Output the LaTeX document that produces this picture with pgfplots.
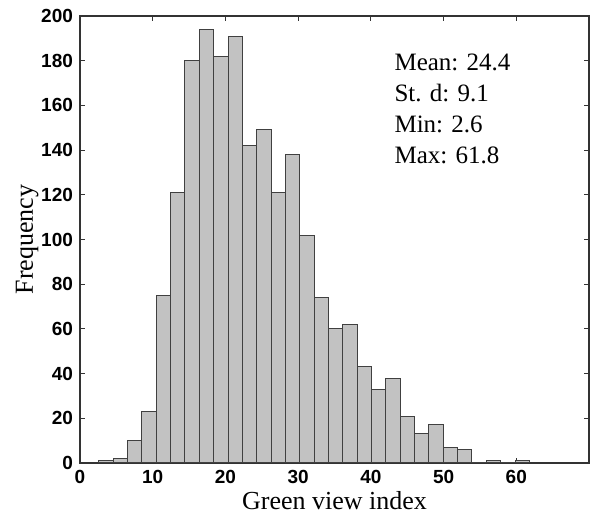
\documentclass[border=0pt]{standalone}
\usepackage{fontspec}
\setmainfont{Liberation Serif}
\setsansfont{Liberation Sans}
\usepackage{pgfplots}
\pgfplotsset{compat=1.18}
\usepackage{pgfplotstable}

% left bin edges (30 bins, 2.6 to 61.8), last row closes the final bin
\pgfplotstableread{
edge   count
2.600  1
4.573  2
6.547  10
8.520  23
10.493 75
12.467 121
14.440 180
16.413 194
18.387 182
20.360 191
22.333 142
24.307 149
26.280 121
28.253 138
30.227 102
32.200 74
34.173 60
36.147 62
38.120 43
40.093 33
42.067 38
44.040 21
46.013 13
47.987 17
49.960 7
51.933 6
53.907 0
55.880 1
57.853 0
59.827 1
61.800 1
}\hist

\begin{document}
\begin{tikzpicture}
\begin{axis}[
    scale only axis,
    width=254.5pt, height=223.5pt,
    xmin=0, xmax=70, ymin=0, ymax=200,
    xtick={0,10,...,60},
    ytick={0,20,...,200},
    tick align=inside,
    major tick length=2.5pt,
    axis line style={black!80, line width=0.6pt},
    every tick/.style={black!80, line width=0.5pt},
    tick label style={font=\fontsize{9.5}{11}\sffamily\bfseries, /pgf/number format/assume math mode=true},
    xlabel={Green view index},
    ylabel={Frequency},
    label style={font=\fontsize{13}{15}\selectfont},
    xlabel style={yshift=3pt},
    ylabel style={yshift=-5.5pt},
]
\addplot[ybar interval, fill=black!24, draw=black!75, line width=0.5pt]
    table[x=edge, y=count] {\hist};
\node[anchor=north west, inner sep=0pt, align=left,
      font=\fontsize{12.5}{15.5}\selectfont]
    at (axis cs:43.2,183.2) {Mean: 24.4\\St. d: 9.1\\Min: 2.6\\Max: 61.8};
\end{axis}
\path ([shift={(-40pt,-26pt)}]current axis.south west)
    rectangle ([shift={(2.5pt,8pt)}]current axis.north east);
\end{tikzpicture}
\end{document}
